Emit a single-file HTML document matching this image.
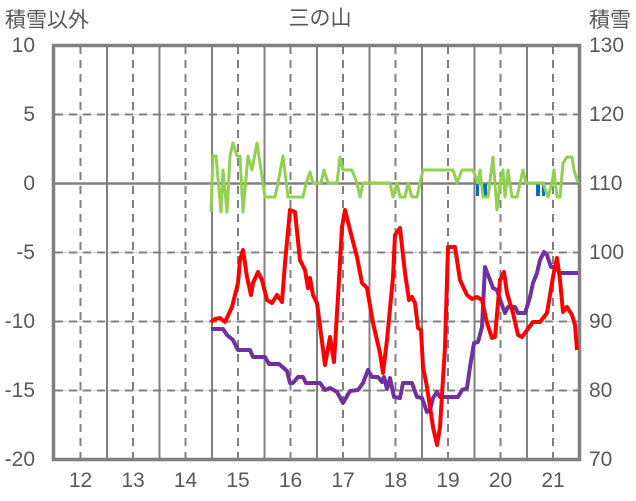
<!DOCTYPE html>
<html><head><meta charset="utf-8"><style>
html,body{margin:0;padding:0;background:#fff;}
svg{display:block;}
text{font-family:"Liberation Sans","Noto Sans CJK JP",sans-serif;fill:#595959;font-size:21px;}
</style></head><body>
<svg width="636" height="501" viewBox="0 0 636 501" xmlns="http://www.w3.org/2000/svg">
<g stroke="#d0d0d0" stroke-width="1">
<line x1="55" y1="114.5" x2="579" y2="114.5"/><line x1="55" y1="252.5" x2="579" y2="252.5"/><line x1="55" y1="321.5" x2="579" y2="321.5"/><line x1="55" y1="390.5" x2="579" y2="390.5"/>
</g>
<g stroke="#808080" stroke-width="2" stroke-dasharray="8,6">
<line x1="55" y1="114.5" x2="579" y2="114.5"/><line x1="55" y1="252.5" x2="579" y2="252.5"/><line x1="55" y1="321.5" x2="579" y2="321.5"/><line x1="55" y1="390.5" x2="579" y2="390.5"/>
<line x1="80.5" y1="46" x2="80.5" y2="459"/><line x1="133" y1="46" x2="133" y2="459"/><line x1="185.5" y1="46" x2="185.5" y2="459"/><line x1="238" y1="46" x2="238" y2="459"/><line x1="290.5" y1="46" x2="290.5" y2="459"/><line x1="343" y1="46" x2="343" y2="459"/><line x1="395.5" y1="46" x2="395.5" y2="459"/><line x1="448" y1="46" x2="448" y2="459"/><line x1="500.5" y1="46" x2="500.5" y2="459"/><line x1="553" y1="46" x2="553" y2="459"/>
</g>
<g stroke="#808080" stroke-width="2">
<line x1="107" y1="45" x2="107" y2="460"/><line x1="159.5" y1="45" x2="159.5" y2="460"/><line x1="212" y1="45" x2="212" y2="460"/><line x1="264.5" y1="45" x2="264.5" y2="460"/><line x1="317" y1="45" x2="317" y2="460"/><line x1="369.5" y1="45" x2="369.5" y2="460"/><line x1="422" y1="45" x2="422" y2="460"/><line x1="474.5" y1="45" x2="474.5" y2="460"/><line x1="527" y1="45" x2="527" y2="460"/>
<line x1="54" y1="183.5" x2="579" y2="183.5" stroke-width="2.5"/>
</g>
<rect x="53.5" y="45.5" width="526" height="414" fill="none" stroke="#808080" stroke-width="3.5"/>
<g fill="#0070c0">
<rect x="476" y="184" width="3" height="12"/><rect x="482" y="184" width="5" height="12"/><rect x="536" y="184" width="4" height="12"/><rect x="542" y="184" width="3" height="12"/>
</g>
<polyline fill="none" stroke="#92d050" stroke-width="3" stroke-linejoin="round" points="211,212 213,156 216,156 221,212 223,170 227,212 230,156 233,143 237,156 240,156 243,212 248,156 252,170 257,143 265,197 275,197 278,183 283,156 288,197 303,197 306,184 310,172 313,183 321,183 324,170 328,183 337,183 340,157 343,170 352,170 357,183 360,197 363,183 390,183 393,197 397,183 400,197 405,197 408,183 412,197 417,197 420,183 423,170 427,170 453,170 457,183 462,170 473,170 478,183 480,170 483,197 488,197 493,157 497,210 500,183 503,170 505,197 508,170 512,197 517,197 523,170 526,183 543,183 548,197 552,183 554,170 557,197 560,197 563,163 567,157 572,157 574,170 578,183"/>
<polyline fill="none" stroke="#7030a0" stroke-width="4" stroke-linejoin="round" points="211,329 223,329 227,335 233,340 238,350 250,350 253,357 265,357 269,364 279,364 287,371 290,383 293,383 298,377 303,377 306,383 320,383 325,390 330,388 337,392 343,403 350,391 358,390 363,383 368,370 372,377 378,377 382,382 384,377 387,389 390,378 394,397 400,398 403,383 412,383 417,397 422,398 427,412 430,410 433,398 437,392 440,397 458,397 462,390 467,388 470,367 474,343 478,342 482,327 485,267 490,280 493,288 497,290 502,305 505,313 508,307 515,307 518,313 525,313 530,297 533,283 537,273 540,260 544,252 547,255 551,267 555,267 560,273 578,273"/>
<polyline fill="none" stroke="#ff0000" stroke-width="4" stroke-linejoin="round" points="211,322 215,319 220,318 225,322 232,307 238,283 240,260 243,250 247,277 251,295 253,283 258,272 262,280 267,300 272,303 277,295 282,302 285,263 290,210 295,212 300,260 305,270 308,288 310,278 313,295 317,303 325,365 330,337 334,362 338,297 342,227 345,210 350,230 357,257 362,283 367,288 373,323 380,353 383,373 387,340 393,277 395,235 400,228 405,273 409,300 412,297 415,303 418,328 421,330 423,367 427,387 433,427 437,445 440,427 445,347 448,247 455,247 460,280 467,295 472,299 477,297 482,300 487,323 492,338 495,337 500,280 504,272 507,293 513,313 518,335 522,337 527,330 533,322 540,322 547,313 552,283 554,272 557,258 560,280 563,312 567,307 572,315 575,325 577,350"/>
<text x="5" y="27">積雪以外</text>
<text x="320" y="25" text-anchor="middle">三の山</text>
<text x="589" y="27">積雪</text>
<g text-anchor="end">
<text x="35" y="52">10</text><text x="35" y="121">5</text><text x="35" y="190">0</text><text x="35" y="259">-5</text><text x="35" y="328">-10</text><text x="35" y="397">-15</text><text x="35" y="466">-20</text>
</g>
<g>
<text x="589" y="52">130</text><text x="589" y="121">120</text><text x="589" y="190">110</text><text x="589" y="259">100</text><text x="589" y="328">90</text><text x="589" y="397">80</text><text x="589" y="466">70</text>
</g>
<g text-anchor="middle">
<text x="80.5" y="487">12</text><text x="133" y="487">13</text><text x="185.5" y="487">14</text><text x="238" y="487">15</text><text x="290.5" y="487">16</text><text x="343" y="487">17</text><text x="395.5" y="487">18</text><text x="448" y="487">19</text><text x="500.5" y="487">20</text><text x="553" y="487">21</text>
</g>
</svg>
</body></html>
